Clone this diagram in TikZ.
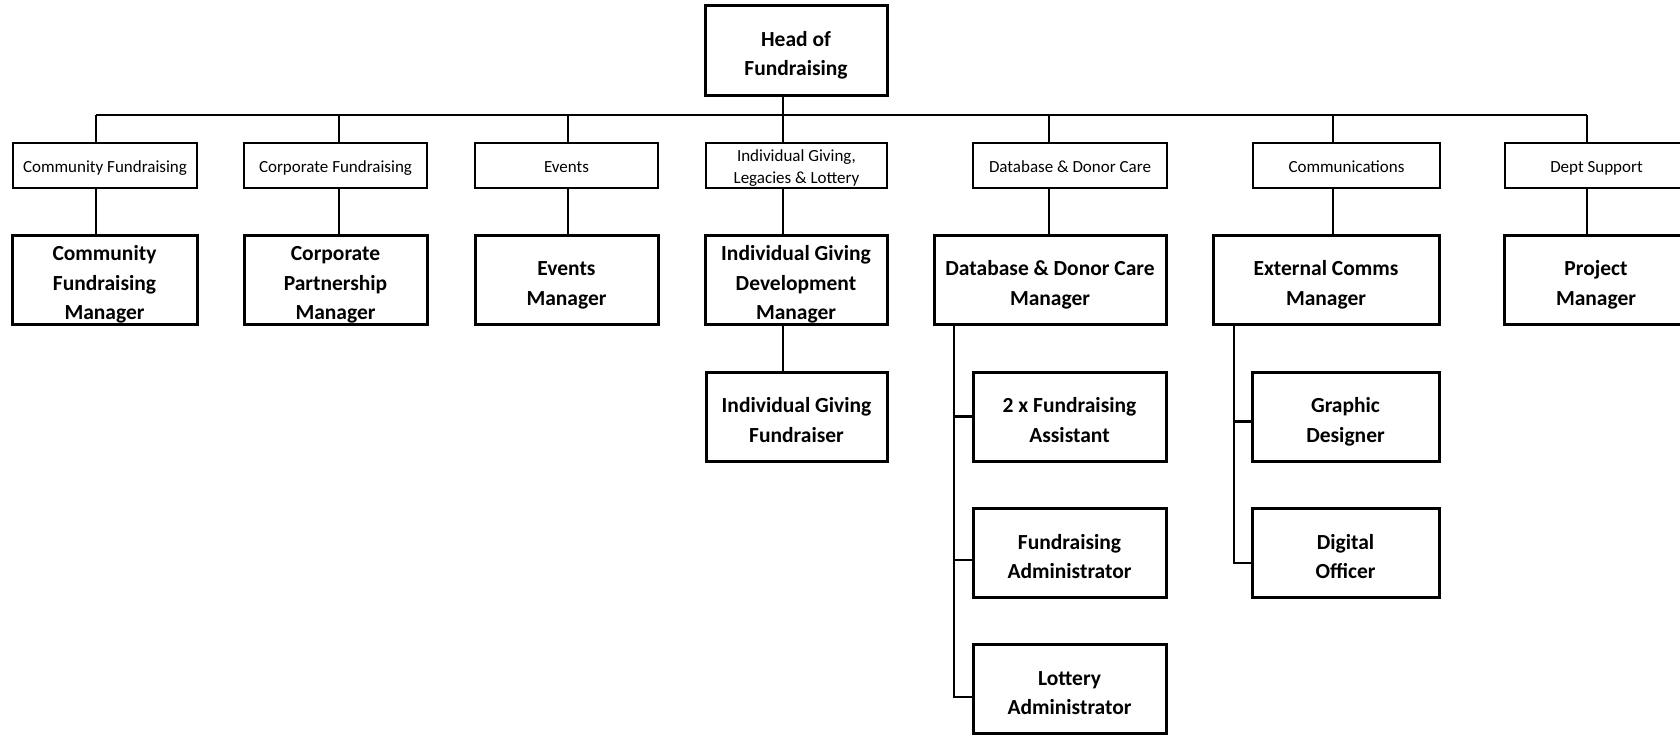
\documentclass[tikz,border=0pt]{standalone}
\usepackage{fontspec}
\setmainfont{Carlito}
\newcommand{\BoxTxt}[1]{\raisebox{-5pt}[\height][\depth]{\begin{tabular}{@{}c@{}}#1\end{tabular}}}
\newcommand{\DeptTxt}[1]{\raisebox{-2.6pt}[\height][\depth]{\begin{tabular}{@{}c@{}}#1\end{tabular}}}
\begin{document}
\begin{tikzpicture}[x=1pt,y=-1pt,
  big/.style={draw, line width=3pt, inner sep=0pt, minimum height=89pt,
    font=\bfseries\fontsize{21.5}{29.5}\selectfont},
  small/.style={draw, line width=1.5pt, inner sep=0pt, minimum height=45pt,
    font=\fontsize{17}{22.5}\selectfont},
  conn/.style={line width=2.8pt}]
\useasboundingbox (0,0) rectangle (1680,734);
% head
\node[big, minimum width=182pt, minimum height=90pt] (head) at (796,50) {\BoxTxt{Head of\\Fundraising}};
% bus coordinates
\coordinate (b1) at (96,115);
\coordinate (b2) at (339,115);
\coordinate (b3) at (568,115);
\coordinate (b4) at (783,115);
\coordinate (b5) at (1049,115);
\coordinate (b6) at (1333,115);
\coordinate (b7) at (1587,115);
\coordinate (s1) at (954,0);
\coordinate (s2) at (1234,0);
% department boxes
\node[small, minimum width=184pt] (cf) at (105,165.5) {\DeptTxt{Community Fundraising}};
\node[small, minimum width=183pt] (cpf) at (335.5,165.5) {\DeptTxt{Corporate Fundraising}};
\node[small, minimum width=183pt] (ev) at (566.5,165.5) {\DeptTxt{Events}};
\node[small, minimum width=181pt] (igl) at (796.5,165.5) {\DeptTxt{Individual Giving,\\Legacies \& Lottery}};
\node[small, minimum width=194pt] (ddc) at (1070,165.5) {\DeptTxt{Database \& Donor Care}};
\node[small, minimum width=187pt] (com) at (1346.5,165.5) {\DeptTxt{Communications}};
\node[small, minimum width=183pt] (ds) at (1596.5,165.5) {\DeptTxt{Dept Support}};
% managers
\node[big, minimum width=185pt] (cfm) at (104.5,279.5) {\BoxTxt{Community\\Fundraising\\Manager}};
\node[big, minimum width=183pt] (cpm) at (335.5,279.5) {\BoxTxt{Corporate\\Partnership\\Manager}};
\node[big, minimum width=183pt] (evm) at (566.5,279.5) {\BoxTxt{Events\\Manager}};
\node[big, minimum width=182pt] (igdm) at (796,279.5) {\BoxTxt{Individual Giving\\Development\\Manager}};
\node[big, minimum width=232pt] (ddcm) at (1050,279.5) {\BoxTxt{Database \& Donor Care\\Manager}};
\node[big, minimum width=226pt] (ecm) at (1326,279.5) {\BoxTxt{External Comms\\Manager}};
\node[big, minimum width=184pt] (pm) at (1596,279.5) {\BoxTxt{Project\\Manager}};
% staff
\node[big, minimum width=181pt] (igf) at (796.5,416.5) {\BoxTxt{Individual Giving\\Fundraiser}};
\node[big, minimum width=193pt] (fa2) at (1069.5,416.5) {\BoxTxt{2 x Fundraising\\Assistant}};
\node[big, minimum width=193pt] (fadm) at (1069.5,553) {\BoxTxt{Fundraising\\Administrator}};
\node[big, minimum width=193pt] (lot) at (1069.5,689) {\BoxTxt{Lottery\\Administrator}};
\node[big, minimum width=187pt] (gd) at (1345.5,416.5) {\BoxTxt{Graphic\\Designer}};
\node[big, minimum width=187pt] (do) at (1345.5,553) {\BoxTxt{Digital\\Officer}};
% connectors
\draw[conn] (head.south -| b4) -- (igl.north -| b4);
\draw[conn] (b1) -- (b7);
\foreach \b/\d/\m in {b1/cf/cfm, b2/cpf/cpm, b3/ev/evm, b4/igl/igdm, b5/ddc/ddcm, b6/com/ecm, b7/ds/pm}{
  \draw[conn] (\b) -- (\d.north -| \b);
  \draw[conn] (\d.south -| \b) -- (\m.north -| \b);
}
\draw[conn] (igdm.south -| b4) -- (igf.north -| b4);
\draw[conn] (ddcm.south -| s1) |- ([yshift=-8pt]lot.west);
\draw[conn] (fa2.west -| s1) -- (fa2.west);
\draw[conn] ([yshift=-7pt]fadm.west -| s1) -- ([yshift=-7pt]fadm.west);
\draw[conn] (ecm.south -| s2) |- ([yshift=-10pt]do.west);
\draw[conn] ([yshift=-5pt]gd.west -| s2) -- ([yshift=-5pt]gd.west);
\end{tikzpicture}
\end{document}
